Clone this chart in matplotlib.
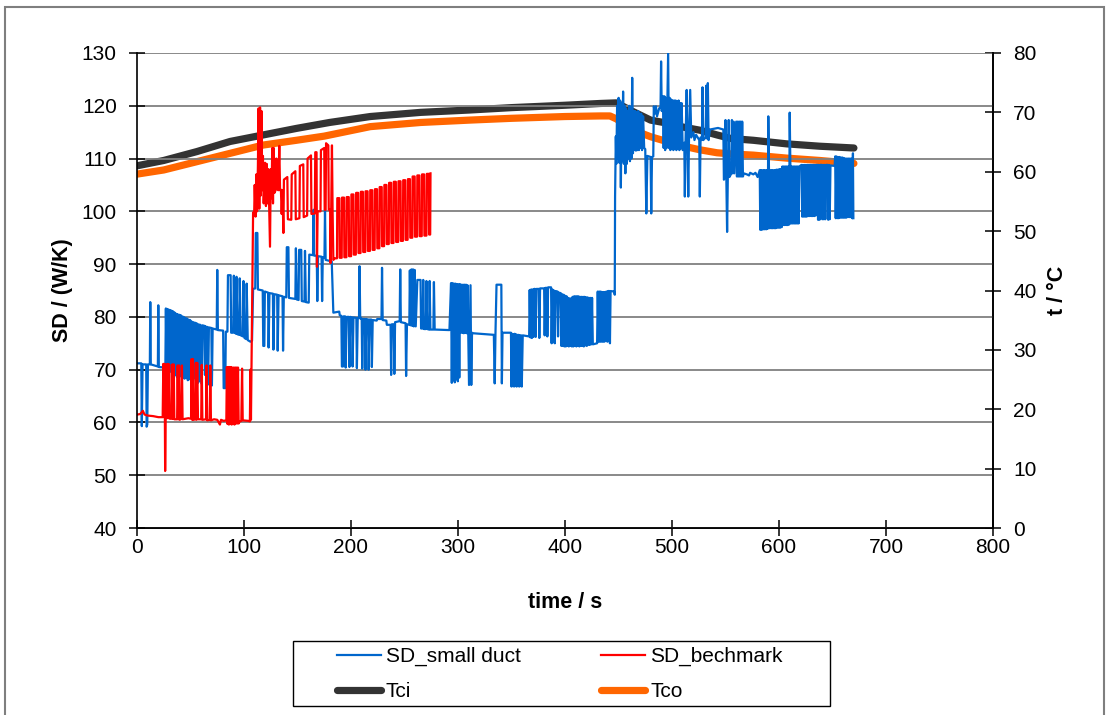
import matplotlib.pyplot as plt
from matplotlib.patches import Rectangle

plt.rcParams['font.family'] = ['Liberation Sans', 'DejaVu Sans']

# (time / s, SD / (W/K))
small_duct = [
    (1.0, 71.2), (4.0, 71.2), (4.5, 59.3), (5.2, 71.0), (8.6, 71.0), (9.0, 59.2), (9.6, 59.6), (10.2, 71.0),
    (12.0, 71.0), (12.4, 82.8), (12.9, 71.0), (19.5, 70.6), (19.9, 82.2), (20.4, 70.5), (26.5, 70.4),
    (27.0, 81.6), (27.6, 70.0), (28.2, 81.5), (28.9, 69.8), (29.5, 81.4), (30.2, 70.2), (30.8, 81.3), (31.5, 69.6),
    (32.1, 81.2), (32.8, 70.0), (33.4, 81.1), (34.1, 69.7), (34.7, 80.9), (35.5, 80.7), (36.0, 69.0), (36.6, 80.6),
    (37.3, 68.6), (38.0, 80.5), (38.8, 68.5), (39.5, 80.4), (40.3, 68.8), (41.0, 80.3), (41.7, 68.6), (42.4, 80.1),
    (43.0, 68.4), (43.7, 80.0), (44.5, 68.3), (45.2, 79.8), (46.0, 68.5), (46.7, 79.7), (47.5, 68.0), (48.2, 79.5),
    (49.0, 68.2), (49.7, 79.4), (50.5, 67.9), (51.2, 79.1), (52.0, 68.3), (52.7, 79.0), (53.5, 68.5), (54.2, 78.9),
    (55.0, 68.0), (55.7, 78.8), (57.0, 67.5), (57.7, 78.6), (58.5, 67.8), (59.2, 78.5), (60.5, 67.3), (61.2, 78.4),
    (63.0, 78.3), (63.5, 69.0), (64.2, 78.2), (65.0, 67.8), (65.7, 78.1), (66.5, 67.2), (67.2, 78.0),
    (69.5, 77.9), (70.0, 67.0), (70.7, 77.8), (74.5, 77.6),
    (75.0, 88.9), (75.6, 77.5), (80.5, 77.4), (81.0, 66.5), (82.5, 66.5), (83.0, 77.2), (84.5, 77.2), (85.0, 87.9),
    (87.5, 87.9), (88.0, 77.0), (90.0, 77.0), (90.5, 87.8), (91.5, 77.0), (92.5, 76.8), (93.0, 87.6), (94.0, 76.7),
    (95.5, 76.6), (96.0, 87.3), (97.0, 76.5), (99.0, 76.3), (99.5, 86.8), (100.5, 76.0), (102.0, 75.8), (102.5, 86.3),
    (103.5, 75.6), (106.0, 75.3), (107.5, 75.5), (108.5, 85.3),
    (110.5, 85.4), (111.0, 95.9), (112.5, 95.9), (113.0, 85.2), (117.5, 85.0), (118.0, 74.5), (119.0, 74.5),
    (119.5, 84.8), (122.5, 84.6), (123.0, 74.2), (123.8, 84.5), (127.0, 84.4), (127.5, 73.8), (128.3, 84.3),
    (131.0, 84.2), (131.5, 73.6), (132.3, 84.1), (136.0, 83.9), (136.5, 73.6), (137.2, 83.8), (139.5, 83.7),
    (140.0, 93.2), (141.5, 93.2), (142.0, 83.6), (148.0, 83.4), (148.5, 93.0), (149.3, 83.3), (151.0, 83.2),
    (151.5, 92.7), (153.5, 92.7), (154.0, 83.0), (156.5, 82.9), (157.0, 92.5), (157.8, 82.8), (160.5, 82.7),
    (161.0, 91.8), (164.5, 91.7), (165.0, 100.3), (165.6, 91.6), (168.0, 91.6), (168.5, 83.0), (169.2, 91.5),
    (172.5, 91.4), (173.0, 83.0), (173.6, 91.3), (175.2, 91.2), (175.7, 100.3), (176.3, 90.8), (182.0, 90.5),
    (183.5, 80.8), (189.0, 81.0), (189.5, 80.3), (191.0, 80.2), (191.5, 70.6), (192.5, 70.6), (193.0, 80.1),
    (194.5, 80.1), (195.0, 70.4), (196.0, 80.0), (198.0, 80.0), (198.5, 70.5), (199.3, 80.0), (201.0, 79.9),
    (201.5, 70.6), (202.3, 79.9), (205.0, 79.8), (205.5, 70.3), (206.3, 79.8), (207.5, 79.8), (208.0, 89.6),
    (208.6, 79.7), (210.0, 79.7), (210.5, 70.2), (211.3, 79.6), (213.0, 79.6), (213.5, 70.0), (214.3, 79.6),
    (216.0, 79.5), (216.5, 70.0), (217.3, 79.5), (219.0, 79.5), (219.5, 70.5), (220.3, 79.4), (224.0, 79.3),
    (224.5, 79.6), (228.5, 79.6), (229.0, 89.3), (229.6, 79.4), (233.0, 79.3), (233.5, 78.5), (237.0, 78.5),
    (237.5, 69.0), (238.2, 78.6), (240.0, 78.6), (240.5, 69.2), (241.2, 79.0), (245.5, 79.2), (246.0, 89.0),
    (246.6, 79.0), (251.0, 78.8), (251.5, 68.8), (252.3, 78.6), (254.5, 78.5), (255.0, 88.8), (255.7, 78.4),
    (256.5, 89.0), (257.2, 78.3), (258.0, 89.0), (258.7, 78.2), (259.5, 88.9), (260.5, 78.2), (262.0, 87.0),
    (265.0, 87.0), (265.5, 77.8), (267.0, 77.8), (267.5, 87.0), (268.2, 77.7), (270.0, 77.7), (270.5, 86.8),
    (271.2, 77.7), (273.0, 77.6), (273.5, 86.8), (274.2, 77.6), (277.0, 77.6), (277.5, 86.6), (278.2, 77.6),
    (292.0, 77.5),
    (293.5, 86.4), (294.2, 67.5), (294.9, 86.4), (295.6, 68.0), (296.3, 86.3), (297.0, 67.6), (297.7, 86.3),
    (298.4, 68.2), (299.1, 86.2), (299.8, 67.8), (300.5, 86.2), (301.2, 68.5), (301.9, 86.2), (302.6, 77.0),
    (303.3, 86.1), (304.0, 77.0), (304.7, 86.1), (305.4, 76.9), (306.1, 86.1), (306.8, 77.0), (307.5, 86.1),
    (308.2, 76.9), (308.9, 86.0), (309.6, 77.0), (310.3, 67.1), (311.0, 77.0), (311.7, 86.0), (312.4, 67.1),
    (313.1, 77.0),
    (314.0, 76.9), (333.5, 76.6), (334.3, 67.4), (335.0, 76.7), (336.0, 86.1), (340.5, 86.1), (341.0, 67.4),
    (341.6, 77.0), (349.5, 77.0), (350.0, 66.8), (350.6, 76.8), (351.2, 66.9), (351.8, 76.7), (352.4, 66.8),
    (353.0, 76.8), (353.6, 66.9), (354.2, 76.7), (354.8, 66.8), (355.4, 76.6), (356.0, 66.9), (356.6, 76.6),
    (357.2, 66.8), (357.8, 76.5), (358.4, 66.9), (359.0, 76.5), (359.6, 66.8), (360.5, 76.5), (366.5, 76.3),
    (367.0, 85.1), (367.7, 76.1), (368.4, 85.2), (369.1, 76.0), (369.8, 85.2), (370.5, 76.2), (371.2, 85.3),
    (372.0, 85.3), (372.6, 76.2), (373.3, 85.3), (375.5, 85.3), (376.0, 76.0), (376.7, 85.4), (380.5, 85.4),
    (381.0, 76.5), (381.7, 85.5), (383.0, 85.5), (383.5, 76.3), (384.2, 85.6), (387.0, 85.6), (387.5, 75.0),
    (388.2, 85.2), (389.0, 75.2), (389.7, 85.0), (390.5, 75.0), (391.2, 84.9), (393.0, 84.8), (393.5, 76.3),
    (394.2, 84.6), (396.0, 84.5), (396.6, 74.5), (397.3, 84.3), (398.0, 74.5), (398.7, 84.2), (399.4, 74.4),
    (400.1, 84.0), (400.8, 74.4), (401.5, 83.9), (402.2, 74.5), (402.9, 83.6), (403.6, 74.4), (404.3, 83.5),
    (405.0, 74.5), (405.7, 83.5), (406.4, 74.4), (407.1, 83.8), (407.8, 74.4), (408.5, 83.9), (409.2, 74.5),
    (409.9, 83.9), (410.6, 74.4), (411.3, 83.9), (412.0, 74.5), (412.7, 83.9), (413.4, 74.4), (414.1, 83.8),
    (414.8, 74.5), (415.5, 83.8), (416.2, 74.5), (416.9, 83.8), (417.6, 74.4), (418.3, 83.8), (419.0, 74.6),
    (419.7, 83.7), (420.4, 74.5), (421.1, 83.7), (421.8, 74.7), (422.5, 83.6), (423.2, 74.7), (423.9, 83.6),
    (424.6, 74.8), (425.3, 83.6), (426.0, 74.8), (430.0, 75.0), (430.6, 84.8), (431.3, 75.3), (432.0, 84.8),
    (432.7, 75.3), (433.4, 84.8), (434.1, 75.3), (434.8, 84.7), (435.5, 75.3), (436.2, 84.7), (436.9, 75.3),
    (437.6, 84.7), (439.0, 84.8), (439.6, 75.3), (440.3, 84.9), (441.5, 84.9), (442.0, 75.0), (442.6, 84.9),
    (446.0, 84.8), (446.5, 84.2),
    (446.8, 102.8), (447.5, 114.2), (448.0, 109.0), (448.7, 120.0), (449.4, 110.0), (450.1, 121.5), (450.8, 109.2),
    (451.5, 121.0), (452.2, 104.5), (452.9, 120.5), (453.6, 109.5), (454.3, 122.7), (455.0, 109.0), (455.7, 120.0),
    (456.4, 107.2), (457.1, 119.5), (457.8, 109.0), (458.5, 119.0), (459.2, 110.0), (460.0, 120.0), (460.7, 109.5),
    (461.4, 119.8), (462.1, 110.0), (462.8, 125.3), (463.5, 111.0), (464.2, 119.0), (464.9, 111.6), (465.6, 119.0),
    (466.3, 111.5), (467.0, 118.8), (467.7, 111.6), (468.4, 119.0), (469.1, 111.6), (469.8, 118.5), (470.5, 112.0),
    (471.2, 118.5), (472.0, 111.6), (473.0, 118.0), (474.0, 112.0), (475.0, 111.8), (476.0, 99.6), (477.0, 110.5),
    (480.0, 110.3), (480.6, 99.6), (481.3, 110.3), (482.5, 110.4), (483.0, 119.9), (484.0, 118.5), (485.0, 119.9),
    (486.0, 118.0), (488.0, 119.5), (489.3, 119.8), (489.8, 128.4), (490.4, 119.0), (491.5, 121.8), (492.2, 112.0),
    (492.9, 121.8), (493.6, 111.6), (494.3, 121.5), (495.0, 112.0), (495.7, 121.5), (496.4, 130.0), (497.1, 112.0),
    (497.8, 121.5), (498.5, 111.6), (499.2, 121.2), (499.9, 112.0), (500.6, 121.0), (501.3, 111.6), (502.0, 121.0),
    (502.7, 112.0), (503.4, 121.0), (504.1, 111.6), (504.8, 120.8), (505.5, 112.0), (506.2, 121.0), (506.9, 111.6),
    (507.6, 120.5), (508.3, 112.0), (509.0, 120.5), (510.0, 111.6), (511.5, 113.0), (512.0, 102.8), (512.7, 113.5),
    (513.7, 123.0), (514.5, 113.0), (515.2, 102.8), (515.9, 114.0), (517.0, 123.0), (518.0, 114.0), (520.0, 115.0),
    (521.0, 113.5), (522.5, 114.5), (524.0, 114.0), (525.5, 113.5), (526.0, 102.8), (526.7, 114.0), (528.0, 113.5),
    (528.5, 123.5), (529.2, 113.5), (531.5, 114.0), (532.0, 123.8), (532.7, 113.8), (533.5, 124.3), (534.2, 113.5),
    (535.5, 115.5), (543.0, 115.8), (548.0, 115.5),
    (548.5, 106.0), (549.5, 106.5), (550.0, 117.3), (550.7, 107.0), (551.5, 96.1), (552.2, 107.0), (553.0, 117.3),
    (553.7, 106.5), (555.5, 107.2), (556.0, 117.3), (556.7, 107.2), (557.5, 117.0), (558.2, 107.2), (560.0, 117.0),
    (560.7, 106.6), (561.4, 117.0), (562.1, 106.6), (562.8, 117.0), (563.5, 106.6), (564.2, 117.0), (564.9, 106.6),
    (565.6, 117.0), (566.3, 106.6), (567.0, 107.2), (570.0, 107.0), (572.0, 106.8), (573.0, 107.3), (576.0, 107.0),
    (578.0, 107.3), (580.0, 106.5),
    (582.0, 107.8), (582.5, 96.5), (583.2, 107.8), (583.9, 96.5), (584.6, 107.8), (585.3, 96.6), (586.0, 107.8),
    (586.7, 96.6), (587.4, 107.8), (588.1, 96.6), (588.8, 107.8), (589.5, 96.7), (590.0, 118.0), (590.6, 107.8),
    (591.3, 96.8), (592.0, 107.8), (592.7, 96.8), (593.4, 107.8), (594.1, 96.8), (594.8, 107.8), (595.5, 96.8),
    (596.2, 107.8), (596.9, 96.8), (597.6, 107.9), (598.3, 96.9), (599.0, 107.9), (599.7, 96.9), (600.4, 108.0),
    (601.1, 96.9), (601.8, 108.0), (602.5, 97.0), (603.2, 108.5), (603.9, 97.4), (604.6, 108.5), (605.3, 97.4),
    (606.0, 108.5), (606.7, 97.4), (607.4, 108.5), (608.1, 97.4), (608.8, 108.5), (609.5, 97.5), (610.0, 118.7),
    (610.6, 108.5), (611.3, 97.7), (612.0, 108.5), (612.7, 97.7), (613.4, 108.5), (614.1, 97.7), (614.8, 108.5),
    (615.5, 97.7), (616.2, 108.5), (616.9, 97.7), (617.6, 108.5), (618.3, 97.7), (619.0, 108.5), (621.0, 108.8),
    (621.7, 99.0), (622.4, 108.8), (623.1, 99.0), (623.8, 108.8), (624.5, 99.0), (625.2, 108.8), (625.9, 99.0),
    (626.6, 108.8), (627.3, 99.1), (628.0, 108.8), (628.7, 99.1), (629.4, 108.8), (630.1, 99.1), (630.8, 108.8),
    (631.5, 99.1), (632.2, 108.8), (632.9, 99.1), (633.6, 108.8), (634.3, 99.2), (635.0, 108.8), (636.0, 108.8),
    (636.5, 98.4), (637.2, 108.8), (637.9, 98.4), (638.6, 108.8), (640.0, 108.8), (640.5, 98.5), (641.2, 108.8),
    (641.9, 98.5), (642.6, 108.8), (643.3, 98.5), (644.0, 108.8), (645.5, 108.8), (646.0, 98.4), (646.7, 108.8),
    (647.4, 98.5), (648.1, 108.7), (652.0, 108.6), (652.5, 110.4), (653.0, 98.7), (653.7, 110.4), (654.4, 98.7),
    (655.1, 110.3), (655.8, 98.7), (656.5, 110.3), (657.2, 98.8), (657.9, 110.2), (658.6, 98.8), (659.3, 110.2),
    (660.0, 98.8), (660.7, 110.1), (661.4, 98.8), (662.1, 110.0), (662.8, 98.8), (663.5, 110.0), (664.2, 98.9),
    (664.9, 110.0), (665.6, 98.9), (666.3, 110.0), (667.0, 98.9), (667.7, 110.0), (668.4, 98.7), (669.1, 111.0),
    (669.5, 98.7),
]

benchmark = [
    (0.5, 61.5), (3.0, 61.6), (5.5, 62.2), (7.0, 61.5), (10.0, 61.3), (15.0, 61.2), (20.0, 61.0), (24.0, 61.0),
    (24.6, 71.1), (25.2, 61.0), (25.8, 71.1), (26.3, 50.8), (26.8, 61.0), (27.5, 71.0), (28.1, 60.8), (28.8, 71.1),
    (29.4, 60.8), (30.1, 71.0), (30.7, 60.7), (32.5, 60.7), (33.0, 71.0), (33.6, 60.7), (34.3, 71.0), (34.9, 60.6),
    (37.5, 60.6), (38.0, 70.8), (38.6, 60.6), (39.3, 70.8), (39.9, 60.5), (41.5, 60.7), (42.0, 70.8), (42.6, 60.6),
    (48.0, 60.8), (50.5, 60.7), (51.0, 72.0), (51.6, 60.5), (52.3, 72.0), (52.9, 60.5), (54.5, 60.6), (55.0, 71.3),
    (55.6, 60.5), (56.3, 71.3), (57.0, 60.6), (60.0, 60.6), (60.5, 70.9), (61.1, 60.5), (64.5, 60.6), (65.0, 70.8),
    (65.6, 60.4), (68.0, 60.5), (68.5, 70.8), (69.1, 60.4), (72.0, 60.6), (75.0, 60.5), (77.5, 59.6), (78.5, 60.5),
    (81.0, 60.3), (83.5, 60.4), (84.0, 70.5), (84.6, 59.7), (85.3, 70.5), (85.9, 59.6), (86.6, 70.5), (87.2, 59.7),
    (87.9, 70.5), (88.5, 59.6), (89.2, 70.4), (89.8, 59.7), (90.5, 70.4), (91.1, 59.6), (91.8, 70.4), (92.4, 59.8),
    (93.1, 70.4), (93.7, 59.8), (94.4, 70.4), (95.0, 59.8), (96.0, 60.2), (97.5, 60.3), (98.2, 70.2), (98.8, 60.4),
    (104.0, 60.3), (105.5, 60.2), (106.0, 70.0), (106.5, 60.5),
    (107.2, 75.0), (107.8, 89.5), (108.5, 99.8), (109.5, 99.5), (110.0, 105.0), (110.8, 99.0), (111.5, 107.0),
    (112.2, 100.0), (113.0, 108.6), (113.6, 119.5), (114.3, 100.5), (115.0, 119.7), (115.7, 103.0), (116.4, 119.0),
    (117.0, 104.0), (117.7, 110.5), (118.4, 101.5), (119.7, 109.2), (120.5, 101.0), (121.2, 109.0), (122.0, 101.5),
    (122.8, 108.0), (123.5, 101.0), (124.3, 93.3), (125.0, 108.0), (125.7, 102.5), (126.4, 112.0), (127.1, 101.5),
    (127.8, 112.0), (128.5, 103.5), (129.5, 104.0), (130.2, 110.0), (131.0, 104.2), (132.0, 104.0), (133.0, 112.4),
    (133.7, 104.0), (134.5, 104.1), (135.2, 99.5), (136.0, 104.0), (136.8, 95.9),
    (137.3, 106.0), (140.5, 106.5), (141.0, 98.5), (144.2, 98.4), (144.6, 107.0), (148.0, 107.6), (148.4, 98.5),
    (151.8, 98.7), (152.2, 108.6), (155.4, 108.9), (155.8, 98.9), (159.0, 99.2), (159.4, 110.0), (162.6, 110.6),
    (163.0, 99.5), (166.2, 99.6), (166.6, 111.2), (167.8, 111.2), (168.2, 89.5), (168.8, 100.0), (171.5, 100.0),
    (171.9, 111.6), (175.0, 112.0), (175.4, 100.3), (176.3, 100.3), (176.7, 112.9), (178.8, 112.5), (179.2, 100.3),
    (180.5, 100.3), (180.9, 90.2), (181.5, 100.0), (182.2, 112.5), (182.8, 100.0), (183.5, 90.8),
    (185.0, 91.1), (186.9, 91.1), (187.2, 102.5), (189.1, 102.5), (189.4, 91.2), (191.3, 91.2), (191.6, 102.6),
    (193.5, 102.6), (193.8, 91.3), (195.7, 91.3), (196.0, 102.7), (197.9, 102.7), (198.2, 91.5), (200.1, 91.5),
    (200.4, 103.2), (202.3, 103.2), (202.6, 91.8), (204.5, 91.8), (204.8, 103.5), (206.7, 103.5), (207.0, 92.1),
    (208.9, 92.1), (209.2, 103.7), (211.1, 103.7), (211.4, 92.3), (213.3, 92.3), (213.6, 103.8), (215.5, 103.8),
    (215.8, 92.5), (217.7, 92.5), (218.0, 104.0), (219.9, 104.0), (220.2, 92.7), (222.1, 92.7), (222.4, 104.2),
    (224.3, 104.2), (224.6, 93.0), (226.5, 93.0), (226.8, 104.6), (228.7, 104.6), (229.0, 93.4), (230.9, 93.4),
    (231.2, 105.0), (233.1, 105.0), (233.4, 93.8), (235.3, 93.8), (235.6, 105.4), (237.5, 105.4), (237.8, 94.0),
    (239.7, 94.0), (240.0, 105.6), (241.9, 105.6), (242.2, 94.2), (244.1, 94.2), (244.4, 105.7), (246.3, 105.7),
    (246.6, 94.4), (248.5, 94.4), (248.8, 105.9), (250.7, 105.9), (251.0, 94.6), (252.9, 94.6), (253.2, 106.1),
    (255.1, 106.1), (255.4, 95.0), (257.3, 95.0), (257.6, 106.6), (259.5, 106.6), (259.8, 95.2), (261.7, 95.2),
    (262.0, 106.8), (263.9, 106.8), (264.2, 95.3), (266.1, 95.3), (266.4, 107.0), (268.3, 107.0), (268.6, 95.4),
    (270.5, 95.4), (270.8, 107.1), (272.7, 107.1), (273.0, 95.6), (274.0, 95.6), (274.3, 107.2),
]

# temperatures, t / °C
tci_time = [0, 25, 56, 87, 118, 149, 180, 218, 265, 311, 350, 400, 433, 448, 464, 480, 495, 511, 526, 542, 555, 576, 607, 638, 670]
tci = [61.0, 61.9, 63.4, 65.1, 66.2, 67.3, 68.3, 69.3, 70.0, 70.4, 70.8, 71.2, 71.5, 71.6, 70.1, 68.7, 68.2, 67.5, 67.0, 66.2, 65.6, 65.3, 64.7, 64.3, 64.0]
tco_time = [0, 25, 56, 87, 118, 149, 175, 218, 265, 311, 350, 400, 433, 442, 448, 464, 480, 495, 511, 526, 542, 555, 576, 607, 638, 670]
tco = [59.6, 60.3, 61.7, 63.1, 64.5, 65.3, 66.0, 67.6, 68.3, 68.7, 69.0, 69.3, 69.4, 69.4, 68.9, 67.0, 65.9, 65.1, 64.3, 63.7, 63.2, 63.0, 62.8, 62.3, 61.9, 61.4]

sd_ticks = list(range(40, 131, 10))
t_ticks = list(range(0, 81, 10))
time_ticks = list(range(0, 801, 100))

W, H = 1109, 715
fig = plt.figure(figsize=(W / 100, H / 100), dpi=100)
fig.patches.append(Rectangle((5 / W, -0.1), 1099 / W, 1.1 - 7 / H, transform=fig.transFigure,
                             fill=False, edgecolor='#7f7f7f', lw=1.5))

ax = fig.add_axes([137 / W, 1 - 528 / H, (993 - 137) / W, (528 - 53) / H])
ax2 = ax.twinx()

l_ci, = ax2.plot(tci_time, tci, color='#333333', lw=5.2, solid_capstyle='round', label='Tci')
l_co, = ax2.plot(tco_time, tco, color='#ff6600', lw=5.2, solid_capstyle='round', label='Tco')

l_sd, = ax.plot([p[0] for p in small_duct], [p[1] for p in small_duct], color='#0066cc', lw=1.6,
                label='SD_small duct')
l_bm, = ax.plot([p[0] for p in benchmark], [p[1] for p in benchmark], color='#ff0000', lw=1.6,
                label='SD_bechmark')

# SD curves sit above the temperature curves
ax.set_zorder(ax2.get_zorder() + 1)
ax.patch.set_visible(False)

ax.set_xlim(0, 800)
ax.set_ylim(40, 130)
ax2.set_ylim(0, 80)
ax.set_xticks(time_ticks)
ax.set_yticks(sd_ticks)
ax2.set_yticks(t_ticks)

ax.grid(axis='y', color='#808080', lw=1.3)
ax.set_axisbelow(True)

for a in (ax, ax2):
    a.spines['top'].set_visible(False)
    for s in ('left', 'right', 'bottom'):
        a.spines[s].set_linewidth(1.2)
ax2.spines['left'].set_visible(False)

ax.tick_params(axis='both', direction='inout', length=11, width=1.1, labelsize=15)
ax.tick_params(axis='y', pad=9)
ax.tick_params(axis='x', pad=2)
ax2.tick_params(axis='y', direction='inout', length=11, width=1.1, labelsize=15, pad=9)

ax.set_ylabel('SD / (W/K)', fontsize=15.5, fontweight='bold')
ax.yaxis.set_label_coords((73 - 137) / 856, 0.5)
ax.set_xlabel('time / s', fontsize=15.5, fontweight='bold')
ax.xaxis.set_label_coords(0.5, (528 - 592) / 475)
ax2.set_ylabel('t / °C', fontsize=15.5, fontweight='bold')
ax2.yaxis.set_label_coords((1047 - 137) / 856, 0.5)

# legend box at the bottom
fig.patches.append(Rectangle((293 / W, 1 - 706 / H), (830 - 293) / W, 65 / H, transform=fig.transFigure,
                             fill=False, edgecolor='black', lw=1))
fig.legend([l_sd, l_ci, l_bm, l_co], ['SD_small duct', 'Tci', 'SD_bechmark', 'Tco'], ncol=2,
           loc='upper left', bbox_to_anchor=(337 / W, 1 - 647 / H), frameon=False, borderpad=0,
           borderaxespad=0, fontsize=15, handlelength=2.1, handletextpad=0.25, columnspacing=3.85,
           labelspacing=0.75)

fig.savefig('out.png', dpi=100)
